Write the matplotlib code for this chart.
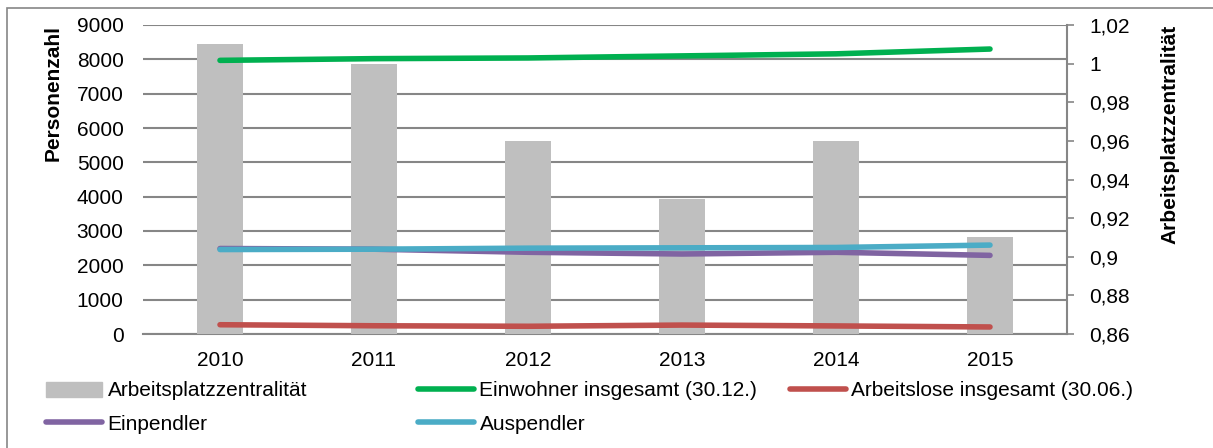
import matplotlib
matplotlib.use("Agg")
import matplotlib.pyplot as plt
from matplotlib.patches import Rectangle
from matplotlib.lines import Line2D
from matplotlib.ticker import FuncFormatter, MultipleLocator

plt.rcParams['font.family'] = ['Liberation Sans', 'DejaVu Sans']

years = ['2010', '2011', '2012', '2013', '2014', '2015']
zentralitaet = [1.010, 1.000, 0.960, 0.930, 0.960, 0.910]
einwohner = [7970, 8020, 8040, 8100, 8160, 8300]
arbeitslose = [270, 240, 225, 260, 235, 205]
einpendler = [2490, 2470, 2380, 2330, 2380, 2290]
auspendler = [2460, 2470, 2500, 2510, 2520, 2590]

c_bar = '#BFBFBF'
c_green = '#00B050'
c_red = '#C0504D'
c_purple = '#8064A2'
c_cyan = '#4BACC6'
c_grid = '#868686'
FS = 15

W, H = 1213, 448
fig = plt.figure(figsize=(W / 100, H / 100), dpi=100)

# figure border (only top and left edges fall inside the image)
fig.patches.append(Rectangle((7 / W, -10 / H), 1220 / W, (448 - 8 + 10) / H,
                             transform=fig.transFigure, fill=False,
                             edgecolor='#868686', linewidth=1.2))

pos = [143 / W, 1 - 334 / H, (1067 - 143) / W, (334 - 25) / H]
x = list(range(len(years)))

# base axes: left scale and gridlines
ax1 = fig.add_axes(pos)
ax1.set_xlim(-0.5, 5.5)
ax1.set_ylim(0, 9000)
ax1.yaxis.set_major_locator(MultipleLocator(1000))
ax1.grid(axis='y', color=c_grid, linewidth=1.5)
ax1.set_axisbelow(True)
for s in ['top', 'right', 'left']:
    ax1.spines[s].set_visible(False)
ax1.spines['bottom'].set_color(c_grid)
ax1.spines['bottom'].set_linewidth(1.5)
ax1.set_xticks(x)
ax1.set_xticklabels(years, fontsize=FS)
ax1.tick_params(axis='x', length=0, pad=12)
ax1.tick_params(axis='y', length=0, pad=14, labelsize=FS)
ax1.set_ylabel('Personenzahl', fontsize=FS, fontweight='bold', labelpad=10, loc='top')

# bars on right scale
ax2 = ax1.twinx()
ax2.set_ylim(0.86, 1.02)
ax2.yaxis.set_major_locator(MultipleLocator(0.02))
ax2.bar(x, [z - 0.86 for z in zentralitaet], bottom=0.86, width=0.3, color=c_bar, zorder=2)
ax2.yaxis.set_major_formatter(FuncFormatter(lambda v, p: ('%g' % round(v, 2)).replace('.', ',')))
for s in ['top', 'left', 'bottom']:
    ax2.spines[s].set_visible(False)
ax2.spines['right'].set_color(c_grid)
ax2.spines['right'].set_linewidth(1.5)
ax2.tick_params(axis='y', direction='out', length=5, width=1.2, color=c_grid,
                pad=11, labelsize=FS)
ax2.set_ylabel('Arbeitsplatzzentralität', fontsize=FS, fontweight='bold',
               labelpad=22, loc='top')

# lines on top
ax3 = fig.add_axes(pos, sharex=ax1, sharey=ax1)
ax3.patch.set_visible(False)
ax3.axis('off')
lw = 4
kw = dict(linewidth=lw, solid_capstyle='round', solid_joinstyle='round')
ax3.plot(x, einwohner, color=c_green, **kw)
ax3.plot(x, arbeitslose, color=c_red, **kw)
ax3.plot(x, einpendler, color=c_purple, **kw)
ax3.plot(x, auspendler, color=c_cyan, **kw)

# legend entries
entries = [
    (Rectangle((0, 0), 1, 1, color=c_bar), 'Arbeitsplatzzentralität', 46, 391),
    (Line2D([], [], color=c_green, **kw), 'Einwohner insgesamt (30.12.)', 418, 391),
    (Line2D([], [], color=c_red, **kw), 'Arbeitslose insgesamt (30.06.)', 790, 391),
    (Line2D([], [], color=c_purple, **kw), 'Einpendler', 46, 424),
    (Line2D([], [], color=c_cyan, **kw), 'Auspendler', 418, 424),
]
for h, lab, px, py in entries:
    fig.legend([h], [lab], loc='center left', bbox_to_anchor=(px / W, 1 - py / H),
               frameon=False, fontsize=FS, borderpad=0, borderaxespad=0,
               handlelength=2.7, handletextpad=0.25)

fig.savefig('out.png', dpi=100)
